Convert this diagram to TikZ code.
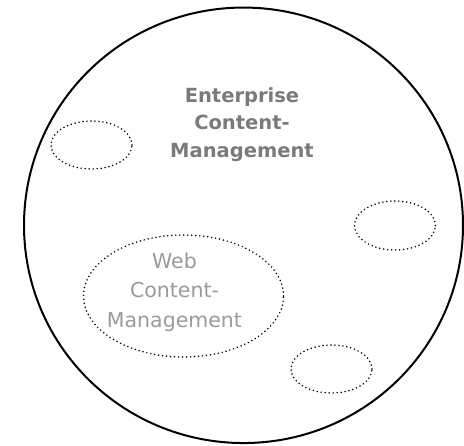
\documentclass[tikz,border=0pt]{standalone}
\usepackage{fontspec}
\setmainfont{DejaVu Sans}
\usetikzlibrary{shapes.geometric}
\definecolor{ecmgray}{HTML}{7A7A7A}
\definecolor{wcmgray}{HTML}{9A9A9A}

\begin{document}
\begin{tikzpicture}[x=1pt,y=-1pt,
    blob/.style={ellipse,draw,line width=1.7pt,dash pattern=on 0pt off 4pt,line cap=round,inner sep=0pt},
    label/.style={align=center,inner sep=0pt}]
    \useasboundingbox (0,0) rectangle (464,446);
    % outer system
    \node[ellipse,draw,line width=2pt,minimum width=439pt,minimum height=435.5pt,inner sep=0pt] (ecmcircle) at (243.5,225.3) {};
    \node[label,font=\bfseries\fontsize{19.5}{27.5}\selectfont,text=ecmgray] (ecm) at (242,124.4) {Enterprise\\Content-\\Management};
    % sub systems
    \node[blob,minimum width=200pt,minimum height=122pt] (wcmblob) at (183.5,296) {};
    \node[label,font=\fontsize{20.5}{29.5}\selectfont,text=wcmgray] (wcm) at (174.5,292.1) {Web\\Content-\\Management};
    \node[blob,minimum width=81pt,minimum height=48pt] (blobleft) at (91.5,145) {};
    \node[blob,minimum width=81pt,minimum height=49pt] (blobright) at (395,225.5) {};
    \node[blob,minimum width=81pt,minimum height=48pt] (blobbottom) at (331.5,369) {};
\end{tikzpicture}
\end{document}
